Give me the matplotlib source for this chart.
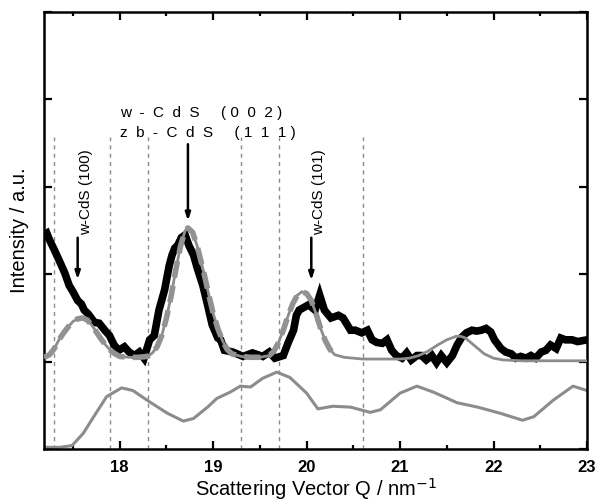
import matplotlib
matplotlib.use("Agg")
import matplotlib.pyplot as plt
from matplotlib.ticker import MultipleLocator

plt.rcParams["font.family"] = ["Liberation Sans", "DejaVu Sans"]

# measured scattering profile (black, noisy)
q_data = [17.19, 17.22, 17.25, 17.30, 17.36, 17.41, 17.46, 17.50, 17.55, 17.59,
          17.62, 17.66, 17.73, 17.78, 17.84, 17.89, 17.94,
          17.99, 18.05, 18.10, 18.16, 18.21, 18.26, 18.32, 18.37, 18.42, 18.48,
          18.53, 18.56, 18.59, 18.62, 18.66, 18.70, 18.74, 18.79, 18.83, 18.89,
          18.94, 18.99, 19.05, 19.08, 19.12, 19.21, 19.32, 19.42, 19.53, 19.60,
          19.66, 19.75, 19.80, 19.86, 19.89, 19.92, 19.97, 20.02, 20.09, 20.14,
          20.19, 20.26, 20.34, 20.39, 20.47, 20.52, 20.59, 20.65, 20.70, 20.75,
          20.81, 20.86, 20.91, 20.96, 21.02, 21.07, 21.12, 21.18, 21.23, 21.28,
          21.34, 21.39, 21.44, 21.50, 21.56, 21.61, 21.66, 21.71, 21.77, 21.82,
          21.87, 21.92, 21.97, 22.01, 22.08, 22.13, 22.19, 22.24, 22.29, 22.35,
          22.40, 22.45, 22.51, 22.56, 22.61, 22.67, 22.72, 22.77, 22.84, 22.90,
          23.00]
i_data = [2.45, 2.47, 2.39, 2.28, 2.14, 2.02, 1.87, 1.80, 1.70, 1.66,
          1.59, 1.55, 1.45, 1.44, 1.36, 1.30, 1.19,
          1.13, 1.17, 1.11, 1.07, 1.11, 1.04, 1.25, 1.30, 1.59, 1.82,
          2.10, 2.22, 2.30, 2.33, 2.42, 2.45, 2.33, 2.22, 2.07, 1.87,
          1.65, 1.42, 1.27, 1.25, 1.13, 1.11, 1.06, 1.10, 1.06, 1.11,
          1.04, 1.07, 1.21, 1.36, 1.53, 1.59, 1.62, 1.65, 1.59, 1.76,
          1.59, 1.50, 1.53, 1.50, 1.36, 1.36, 1.33, 1.36, 1.25, 1.22,
          1.21, 1.25, 1.13, 1.07, 1.04, 1.10, 1.02, 1.07, 1.07, 1.02,
          1.07, 0.99, 1.07, 0.99, 1.07, 1.19, 1.28, 1.33, 1.36, 1.35,
          1.36, 1.38, 1.34, 1.25, 1.15, 1.11, 1.09, 1.04, 1.06, 1.04,
          1.07, 1.04, 1.11, 1.13, 1.19, 1.15, 1.27, 1.25, 1.25, 1.23,
          1.25]

# fitted profile (grey)
q_fit = [17.19, 17.25, 17.30, 17.35, 17.40, 17.45, 17.50, 17.55, 17.60, 17.65,
         17.70, 17.75, 17.80, 17.85, 17.90, 17.95, 18.00, 18.10, 18.20, 18.30,
         18.35, 18.40, 18.45, 18.50, 18.55, 18.60, 18.65, 18.70, 18.73, 18.78,
         18.83, 18.90, 18.95, 19.00, 19.05, 19.10, 19.15, 19.20, 19.30, 19.40,
         19.50, 19.60, 19.65, 19.70, 19.75, 19.80, 19.85, 19.90, 19.95, 20.00,
         20.05, 20.10, 20.15, 20.20, 20.25, 20.30, 20.40, 20.60, 20.80, 21.00,
         21.10, 21.20, 21.30, 21.40, 21.50, 21.60, 21.65, 21.70, 21.80, 21.90,
         22.00, 22.10, 22.30, 22.60, 23.00]
i_fit = [1.05, 1.08, 1.15, 1.25, 1.33, 1.40, 1.46, 1.49, 1.50, 1.48,
         1.42, 1.34, 1.26, 1.19, 1.13, 1.09, 1.06, 1.05, 1.05, 1.06,
         1.10, 1.17, 1.30, 1.50, 1.75, 2.05, 2.32, 2.50, 2.53, 2.48,
         2.32, 2.02, 1.78, 1.55, 1.38, 1.24, 1.14, 1.09, 1.06, 1.05,
         1.05, 1.07, 1.12, 1.22, 1.36, 1.52, 1.66, 1.76, 1.80, 1.78,
         1.70, 1.55, 1.38, 1.24, 1.14, 1.08, 1.05, 1.03, 1.03, 1.03,
         1.04, 1.07, 1.12, 1.19, 1.25, 1.29, 1.29, 1.27, 1.18, 1.09,
         1.04, 1.02, 1.01, 1.01, 1.01]

# lower grey curve
q_low = [17.18, 17.36, 17.49, 17.61, 17.71, 17.86, 18.02, 18.14, 18.32, 18.51,
         18.68, 18.79, 18.94, 19.04, 19.18, 19.29, 19.40, 19.53, 19.68, 19.82,
         19.93, 20.00, 20.12, 20.28, 20.47, 20.68, 20.79, 21.00, 21.18, 21.36,
         21.61, 21.83, 22.07, 22.31, 22.43, 22.64, 22.85, 23.00]
i_low = [0.02, 0.02, 0.04, 0.18, 0.35, 0.60, 0.70, 0.67, 0.54, 0.41,
         0.32, 0.35, 0.48, 0.58, 0.65, 0.72, 0.71, 0.81, 0.88, 0.82,
         0.71, 0.64, 0.46, 0.49, 0.48, 0.42, 0.45, 0.64, 0.72, 0.65,
         0.53, 0.48, 0.41, 0.33, 0.37, 0.56, 0.72, 0.67]

# reflection markers
q_markers = [17.3, 17.9, 18.3, 19.3, 19.7, 20.6]
marker_top = 3.57

fig = plt.figure(figsize=(5.98, 5.04), dpi=100)
ax = fig.add_axes([0.0736, 0.109, 0.908, 0.867])

for q in q_markers:
    ax.plot([q, q], [0, marker_top], color="#8a8a8a", lw=1.0,
            linestyle=(0, (3, 3)), zorder=1)

ax.plot(q_low, i_low, color="#8c8c8c", lw=2.2, zorder=2)
ax.plot(q_data, i_data, color="black", lw=5.5, solid_joinstyle="miter", zorder=3)
ax.plot(q_fit, i_fit, color="#8c8c8c", lw=2.0, zorder=4)
cut = q_fit.index(20.30) + 1
ax.plot(q_fit[:cut], i_fit[:cut], color="#929292", lw=4.0,
        linestyle=(0, (3, 1.5)), zorder=5)

# peak labels and arrows
arrow = dict(arrowstyle="-|>,head_length=0.45,head_width=0.15", color="black", lw=1.8)
ax.annotate("", xy=(17.55, 1.91), xytext=(17.55, 2.45), arrowprops=arrow)
ax.text(17.64, 2.45, "w-CdS (100)", rotation=90, ha="center", va="bottom", fontsize=11)
ax.annotate("", xy=(18.73, 2.58), xytext=(18.73, 3.52), arrowprops=arrow)
ax.text(18.0, 3.84, "w  -  C  d  S     ( 0  0  2 )", ha="left", va="center", fontsize=11)
ax.text(18.0, 3.62, "z  b  -  C  d  S     ( 1  1  1 )", ha="left", va="center", fontsize=11)
ax.annotate("", xy=(20.05, 1.90), xytext=(20.05, 2.45), arrowprops=arrow)
ax.text(20.13, 2.45, "w-CdS (101)", rotation=90, ha="center", va="bottom", fontsize=11)

ax.set_xlim(17.19, 23.0)
ax.set_ylim(0, 5)
ax.xaxis.set_major_locator(MultipleLocator(1))
ax.xaxis.set_minor_locator(MultipleLocator(0.5))
ax.yaxis.set_major_locator(MultipleLocator(1))
ax.set_yticklabels([])
ax.tick_params(which="both", direction="in", top=True, right=True, width=1.6)
ax.tick_params(which="major", length=6, labelsize=12, pad=8)
ax.tick_params(which="minor", length=3)
for lab in ax.get_xticklabels():
    lab.set_fontweight("bold")
for s in ax.spines.values():
    s.set_linewidth(1.8)

ax.set_xlabel("Scattering Vector Q / nm$^{-1}$", fontsize=14.5, labelpad=1)
ax.set_ylabel("Intensity / a.u.", fontsize=14.5, labelpad=3)

fig.savefig("out.png", dpi=100)
